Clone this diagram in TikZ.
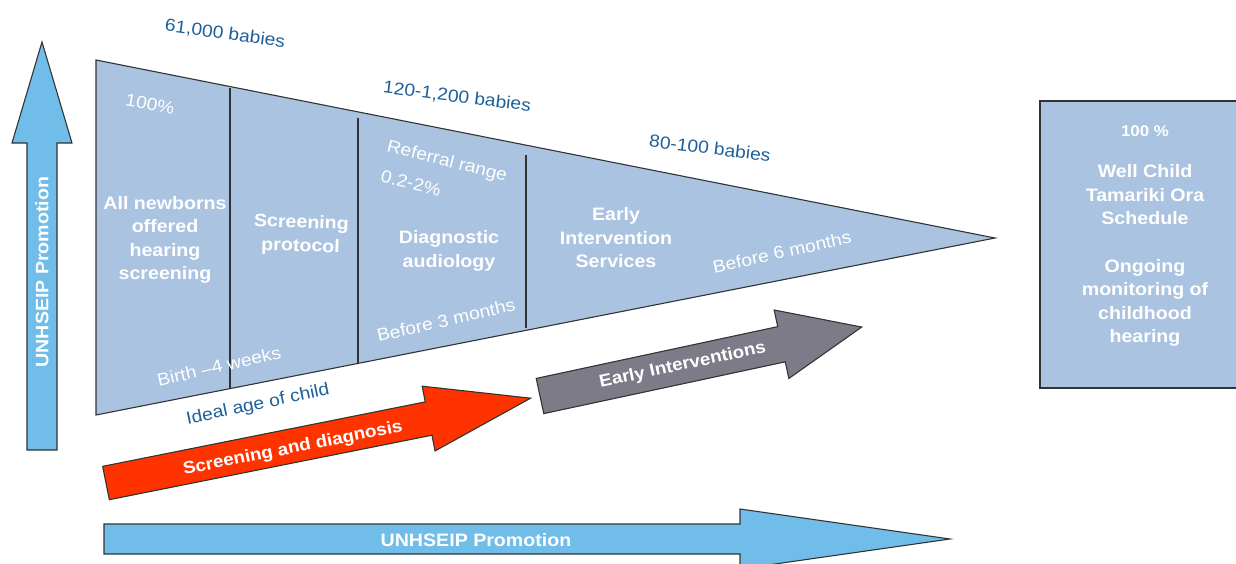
\documentclass[tikz,border=0pt]{standalone}
\usepackage{fontspec}
\setmainfont{Liberation Sans}
\newfontfamily\spacedf[FakeStretch=1.09]{Liberation Sans}
\newfontfamily\spacedt[FakeStretch=1.1]{Liberation Sans}
\definecolor{funnelc}{HTML}{A9C3E0}
\definecolor{skyc}{HTML}{70BDE9}
\definecolor{redc}{HTML}{FF3300}
\definecolor{grayc}{HTML}{7E7B89}
\definecolor{bluet}{HTML}{1F5F99}
\definecolor{lineg}{HTML}{333333}
\begin{document}
\begin{tikzpicture}[x=1pt,y=-1pt,
  outl/.style={draw=lineg, line width=1.1pt, line join=miter},
  bigw/.style={text=white, font=\spacedf\bfseries\fontsize{18}{23.5}\selectfont, align=center, inner sep=0pt},
  thinw/.style={text=white, font=\spacedt\fontsize{17.5}{20}\selectfont, align=left, inner sep=0pt},
  bluetxt/.style={text=bluet, font=\spacedt\fontsize{17.5}{20}\selectfont, inner sep=0pt},
  divline/.style={draw=lineg, line width=1.1pt}]
\useasboundingbox (0,0) rectangle (1236,563);

% funnel
\coordinate (ftl) at (96,60);
\coordinate (fbl) at (96,415);
\coordinate (fap) at (995,238);
\path[outl, fill=funnelc] (ftl) -- (fap) -- (fbl) -- cycle;
% dividers
\coordinate (d1t) at (230,88);  \coordinate (d1b) at (230,388);
\coordinate (d2t) at (358,118); \coordinate (d2b) at (358,363);
\coordinate (d3t) at (526,155); \coordinate (d3b) at (526,328);
\draw[divline] (d1t) -- (d1b);
\draw[divline] (d2t) -- (d2b);
\draw[divline] (d3t) -- (d3b);

% left vertical arrow
\path[outl, fill=skyc] (27,450) -- (27,143) -- (12,143) -- (42,42) -- (72,143) -- (57,143) -- (57,450) -- cycle;
\node[bigw, font=\spacedf\bfseries\fontsize{18}{20}\selectfont, rotate=90] (lprom) at (42,272) {UNHSEIP Promotion};

% bottom arrow
\path[outl, fill=skyc] (104,524) -- (740,524) -- (740,509) -- (950,539) -- (740,569) -- (740,554) -- (104,554) -- cycle;
\node[bigw, font=\spacedf\bfseries\fontsize{18}{20}\selectfont] (bprom) at (476,540) {UNHSEIP Promotion};

% red arrow
\begin{scope}[shift={(106,483)}, rotate=11.3]
\path[outl, fill=redc] (0,-17) -- (329,-17) -- (329,-33) -- (433,0) -- (329,33) -- (329,17) -- (0,17) -- cycle;
\node[bigw, font=\spacedf\bfseries\fontsize{17.3}{20}\selectfont, rotate=11.3] (sdtxt) at (190,3) {Screening and diagnosis};
\end{scope}

% gray arrow
\begin{scope}[shift={(540,396)}, rotate=12.1]
\path[outl, fill=grayc] (0,-18) -- (247,-18) -- (247,-35) -- (329,0) -- (247,35) -- (247,18) -- (0,18) -- cycle;
\node[bigw, font=\spacedf\bfseries\fontsize{17.3}{20}\selectfont, rotate=12.1] (eitxt) at (146,0) {Early Interventions};
\end{scope}

% right box
\path[outl, fill=funnelc] (1040,101) rectangle (1240,388);
\node[bigw, font=\spacedf\bfseries\fontsize{15.5}{20}\selectfont] (b100) at (1145,131) {100 \%};
\node[bigw] (bwell) at (1145,195) {Well Child\\Tamariki Ora\\Schedule};
\node[bigw] (bongo) at (1145,303) {Ongoing\\monitoring of\\childhood\\hearing};

% funnel stage labels
\node[bigw] (s1) at (165,240) {All newborns\\offered\\hearing\\screening};
\node[bigw, rotate=-2] (s2) at (301,235) {Screening\\protocol};
\node[bigw] (s3) at (449,251) {Diagnostic\\audiology};
\node[bigw] (s4) at (616,238) {Early\\Intervention\\Services};

% thin white labels
\node[thinw, rotate=-10] (p100) at (150,104) {100\%};
\node[thinw, rotate=-14] (refr) at (447,162) {Referral range};
\node[thinw, rotate=-14] (refp) at (411,183) {0.2-2\%};
\node[thinw, rotate=13] (age1) at (219,366) {Birth \textendash 4 weeks};
\node[thinw, rotate=12.9] (age2) at (446,320) {Before 3 months};
\node[thinw, rotate=12.5] (age3) at (782,252) {Before 6 months};

% blue labels
\node[bluetxt, rotate=-7.8] (n1) at (225,34) {61,000 babies};
\node[bluetxt, rotate=-7.2] (n2) at (457,97) {120-1,200 babies};
\node[bluetxt, rotate=-7] (n3) at (710,148) {80-100 babies};
\node[bluetxt, rotate=11.8] (ideal) at (258,405) {Ideal age of child};
\end{tikzpicture}
\end{document}
